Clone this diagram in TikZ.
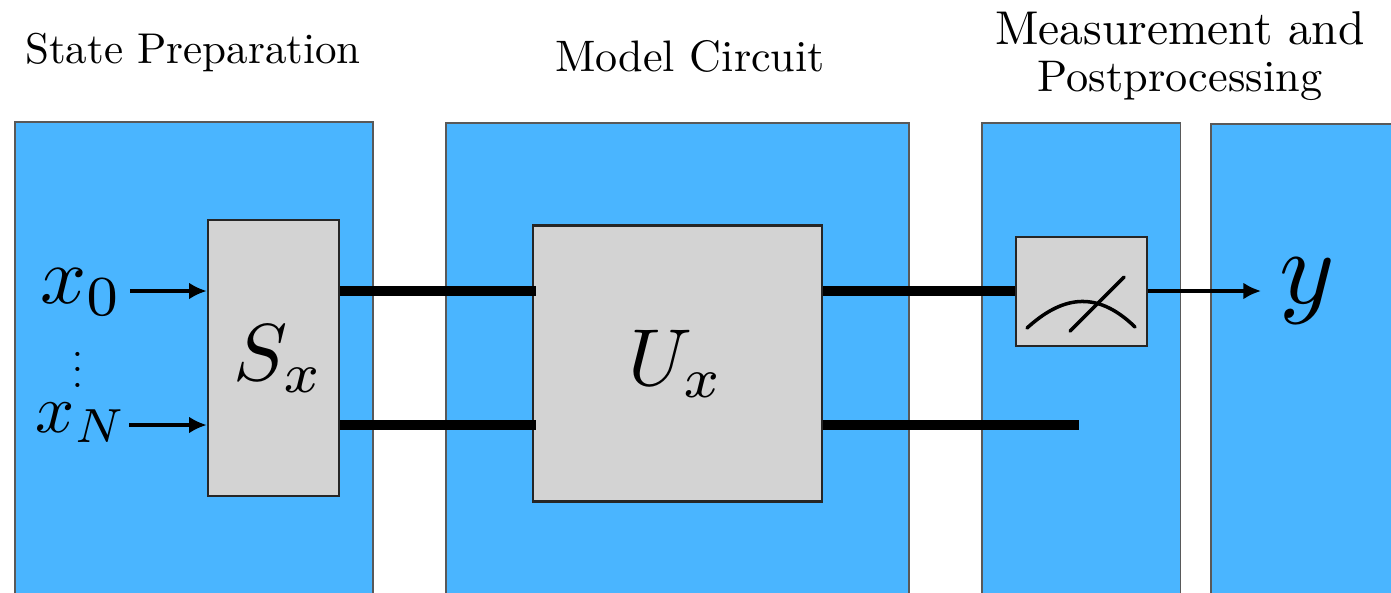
\documentclass[tikz,border=0pt]{standalone}
\usetikzlibrary{arrows.meta}
\begin{document}
\begin{tikzpicture}[
    x=0.02cm, y=-0.02cm,
    panel/.style={rectangle, draw=gray!70!black, fill=panelblue, line width=1.1pt,
      inner sep=0pt},
    gate/.style={rectangle, draw=black!85, fill=gategray, line width=1.5pt,
      inner sep=0pt},
    wire/.style={line width=5.4pt},
    feed/.style={line width=1.8pt, -{Latex[length=10pt,width=9.5pt]}},
    lab/.style={scale=4.6, inner sep=0pt},
    head/.style={inner sep=0pt, align=center}]
  \definecolor{panelblue}{HTML}{4AB5FF}
  \definecolor{gategray}{HTML}{D3D3D3}
  \clip (0,0) rectangle (1391,592);
  % panels
  \node[panel, minimum width=7.16cm, minimum height=11.6cm] (prep) at (194,412) {};
  \node[panel, minimum width=9.26cm, minimum height=11.6cm] (model) at (677.5,413) {};
  \node[panel, minimum width=3.98cm, minimum height=11.6cm] (meas) at (1081,413) {};
  \node[panel, minimum width=4cm, minimum height=11.6cm] (post) at (1311,414) {};
  % titles
  \node[head, scale=2.45] (prephead) at (193,52) {State Preparation};
  \node[head, scale=2.51] (modelhead) at (690,56) {Model Circuit};
  \node[head, scale=2.7] (meashead) at (1180,56) {Measurement and\\[-2pt]\scalebox{0.934}{Postprocessing}};
  % wire heights and free end
  \coordinate (top) at (0,291);
  \coordinate (bot) at (0,425);
  \coordinate (wireend) at (1079,425);
  % gates
  \node[gate, minimum width=2.62cm, minimum height=5.52cm] (Sx) at (273.5,358) {};
  \node[gate, minimum width=5.78cm, minimum height=5.52cm] (Ux) at (677.5,363.5) {};
  \node[gate, minimum width=2.62cm, minimum height=2.18cm] (meter) at (1081.5,291.5) {};
  % thick wires
  \draw[wire] (Sx.east |- top) -- ([xshift=0.08cm]Ux.west |- top);
  \draw[wire] (Sx.east |- bot) -- ([xshift=0.08cm]Ux.west |- bot);
  \draw[wire] (Ux.east |- top) -- (meter.west |- top);
  \draw[wire] (Ux.east |- bot) -- (wireend);
  % gate labels
  \node[lab] (Slab) at (279,359) {$S_x$};
  \node[lab] (Ulab) at (676.5,364) {$U_x$};
  % inputs and output
  \node[lab] (x0) at (82,292) {$x_0$};
  \node[scale=2.2, inner sep=0pt] (dots) at (78,358) {$\vdots$};
  \node[scale=3.9, inner sep=0pt] (xN) at (81,423) {$x_N$};
  \node[scale=6, inner sep=0pt] (y) at (1307,291) {$y$};
  \draw[feed] (130,291) -- (Sx.west |- top);
  \draw[feed] (129,425) -- (Sx.west |- bot);
  \draw[feed] (meter.east |- top) -- (1261,291);
  % meter symbol
  \draw[line width=2pt, line cap=round] (1027,328) .. controls (1060,298) and (1095,288) .. (1135,327);
  \draw[line width=2pt, line cap=round] (1070,331) -- (1124,277);
\end{tikzpicture}
\end{document}
